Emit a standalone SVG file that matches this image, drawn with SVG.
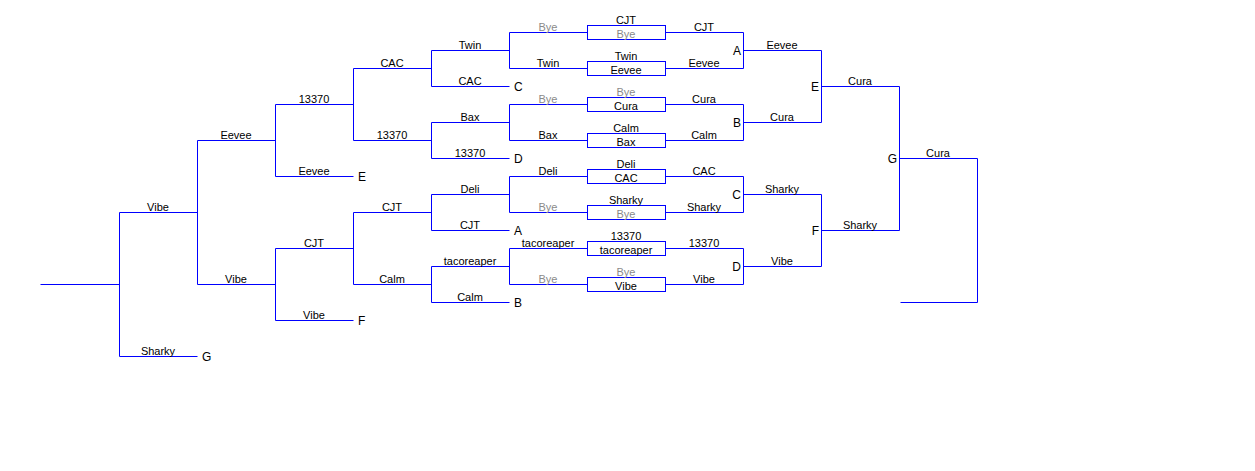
<svg xmlns="http://www.w3.org/2000/svg" width="1255" height="471" viewBox="0 0 1255 471">
<style>
.c{fill:none;stroke:#0000ff;stroke-width:1}
.b{fill:#ffffff;stroke:#0000ff;stroke-width:1}
text{font-family:"Liberation Sans",Arial,sans-serif;font-size:11px;fill:#000;text-anchor:middle}
.g{fill:#8a8a8a}
.k{font-size:12px;text-anchor:start}
.ke{font-size:12px;text-anchor:end}
</style>
<rect width="1255" height="471" fill="#ffffff"/>
<g id="connectors" transform="translate(0.5,0.5)">
<path class="c" d="M40 284H119M119 212V356M119 212H197M119 356H197
M197 140V284M197 140H275M197 284H275
M275 104V176M275 104H353M275 176H353
M275 248V320M275 248H353M275 320H353
M353 68V140M353 68H431M353 140H431
M353 212V284M353 212H431M353 284H431
M431 50V86M431 50H509M431 86H509
M431 122V158M431 122H509M431 158H509
M431 194V230M431 194H509M431 230H509
M431 266V302M431 266H509M431 302H509
M509 32V68M509 104V140M509 176V212M509 248V284
M509 32H587M509 68H587M509 104H587M509 140H587M509 176H587M509 212H587M509 248H587M509 284H587
M665 32H743M665 68H743M665 104H743M665 140H743M665 176H743M665 212H743M665 248H743M665 284H743
M743 32V68M743 104V140M743 176V212M743 248V284
M743 50H821M743 122H821M743 194H821M743 266H821
M821 50V122M821 194V266M821 86H899M821 230H899
M899 86V230M899 158H977M977 158V302M900 302H977"/>
</g>
<g id="tree-labels">
<text x="158" y="211">Vibe</text>
<text x="158" y="355">Sharky</text>
<text x="236" y="139">Eevee</text>
<text x="236" y="283">Vibe</text>
<text x="314" y="103">13370</text>
<text x="314" y="175">Eevee</text>
<text x="314" y="247">CJT</text>
<text x="314" y="319">Vibe</text>
<text x="392" y="67">CAC</text>
<text x="392" y="139">13370</text>
<text x="392" y="211">CJT</text>
<text x="392" y="283">Calm</text>
<text x="470" y="49">Twin</text>
<text x="470" y="85">CAC</text>
<text x="470" y="121">Bax</text>
<text x="470" y="157">13370</text>
<text x="470" y="193">Deli</text>
<text x="470" y="229">CJT</text>
<text x="470" y="265">tacoreaper</text>
<text x="470" y="301">Calm</text>
<text class="g" x="548" y="31">Bye</text>
<text x="548" y="67">Twin</text>
<text class="g" x="548" y="103">Bye</text>
<text x="548" y="139">Bax</text>
<text x="548" y="175">Deli</text>
<text class="g" x="548" y="211">Bye</text>
<text x="548" y="247">tacoreaper</text>
<text class="g" x="548" y="283">Bye</text>
<text x="704" y="31">CJT</text>
<text x="704" y="67">Eevee</text>
<text x="704" y="103">Cura</text>
<text x="704" y="139">Calm</text>
<text x="704" y="175">CAC</text>
<text x="704" y="211">Sharky</text>
<text x="704" y="247">13370</text>
<text x="704" y="283">Vibe</text>
<text x="782" y="49">Eevee</text>
<text x="782" y="121">Cura</text>
<text x="782" y="193">Sharky</text>
<text x="782" y="265">Vibe</text>
<text x="860" y="85">Cura</text>
<text x="860" y="229">Sharky</text>
<text x="938" y="157">Cura</text>
</g>
<g id="ref-labels">
<text class="k" x="514" y="91">C</text>
<text class="k" x="514" y="163">D</text>
<text class="k" x="514" y="235">A</text>
<text class="k" x="514" y="307">B</text>
<text class="k" x="358" y="181">E</text>
<text class="k" x="358" y="325">F</text>
<text class="k" x="202" y="361">G</text>
<text class="ke" x="741" y="55">A</text>
<text class="ke" x="741" y="127">B</text>
<text class="ke" x="741" y="199">C</text>
<text class="ke" x="741" y="271">D</text>
<text class="ke" x="819" y="91">E</text>
<text class="ke" x="819" y="235">F</text>
<text class="ke" x="897" y="163">G</text>
</g>
<g id="match1"><rect class="b" x="587.5" y="25.5" width="78" height="14"/><text x="626" y="24">CJT</text><text class="g" x="626" y="38">Bye</text></g>
<g id="match2"><rect class="b" x="587.5" y="61.5" width="78" height="14"/><text x="626" y="60">Twin</text><text x="626" y="74">Eevee</text></g>
<g id="match3"><rect class="b" x="587.5" y="97.5" width="78" height="14"/><text class="g" x="626" y="96">Bye</text><text x="626" y="110">Cura</text></g>
<g id="match4"><rect class="b" x="587.5" y="133.5" width="78" height="14"/><text x="626" y="132">Calm</text><text x="626" y="146">Bax</text></g>
<g id="match5"><rect class="b" x="587.5" y="169.5" width="78" height="14"/><text x="626" y="168">Deli</text><text x="626" y="182">CAC</text></g>
<g id="match6"><rect class="b" x="587.5" y="205.5" width="78" height="14"/><text x="626" y="204">Sharky</text><text class="g" x="626" y="218">Bye</text></g>
<g id="match7"><rect class="b" x="587.5" y="241.5" width="78" height="14"/><text x="626" y="240">13370</text><text x="626" y="254">tacoreaper</text></g>
<g id="match8"><rect class="b" x="587.5" y="277.5" width="78" height="14"/><text class="g" x="626" y="276">Bye</text><text x="626" y="290">Vibe</text></g>
</svg>
